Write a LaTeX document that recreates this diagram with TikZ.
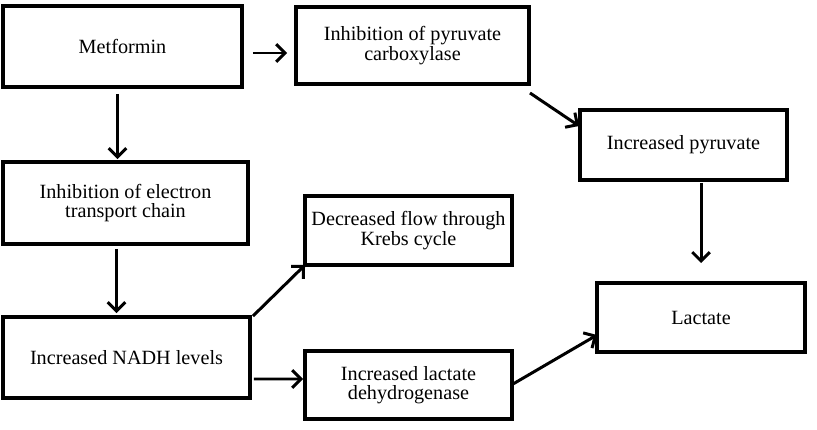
\documentclass[tikz,border=0pt]{standalone}
\usepackage{fontspec}
\setmainfont{Liberation Serif}
\usetikzlibrary{arrows.meta,calc}
\begin{document}
\begin{tikzpicture}[x=0.02cm, y=-0.02cm,
    box/.style={draw, line width=1.8pt, align=center, inner sep=0pt, outer sep=0pt,
                font=\fontsize{11.5}{11}\selectfont},
    arr/.style={line width=1.7pt, -{Straight Barb[length=5pt,width=10pt]}}]
\useasboundingbox (0,0) rectangle (817,429);
    % Boxes
 \node[box, minimum width=4.78cm, minimum height=1.62cm] (met) at (122.5,46.5) {Metformin};
 \node[box, minimum width=4.66cm, minimum height=1.54cm] (pc) at (412.5,45.5) {Inhibition of pyruvate\\carboxylase};
 \node[box, minimum width=4.14cm, minimum height=1.40cm] (pyr) at (683.5,145) {Increased pyruvate};
 \node[box, minimum width=4.90cm, minimum height=1.64cm] (etc) at (125.5,203) {Inhibition of electron\\transport chain};
 \node[box, minimum width=4.14cm, minimum height=1.38cm] (krebs) at (408.5,230.5) {Decreased flow through\\Krebs cycle};
 \node[box, minimum width=4.94cm, minimum height=1.62cm] (nadh) at (126.5,357.5) {Increased NADH levels};
 \node[box, minimum width=4.14cm, minimum height=1.36cm] (ldh) at (408.5,385) {Increased lactate\\dehydrogenase};
 \node[box, minimum width=4.16cm, minimum height=1.38cm] (lac) at (701,317.5) {Lactate};
    % Arrows
 \draw[arr] ($(met.south)+(-5,7)$) -- ($(etc.north)+(-8,-3)$);
 \draw[arr] ($(etc.south)+(-9,5)$) -- ($(nadh.north)+(-10,-4)$);
 \draw[arr] ($(met.east)+(11,6.5)$) -- ($(pc.west)+(-9,7.5)$);
 \draw[arr] ($(pc.south east)+(1,9)$) -- ($(pyr.north west)+(-1,16)$);
 \draw[arr] ($(lac.north |- pyr.south)+(0,3)$) -- ($(lac.north)+(0,-20)$);
 \draw[arr] ($(nadh.north east)+(3,-1)$) -- (krebs.south west);
 \draw[arr] ($(nadh.east)+(4,21.5)$) -- ($(ldh.west)+(-2,-6)$);
 \draw[arr] ($(ldh.east)+(1,-1)$) -- ($(lac.west)+(0,17.5)$);
\end{tikzpicture}
\end{document}
